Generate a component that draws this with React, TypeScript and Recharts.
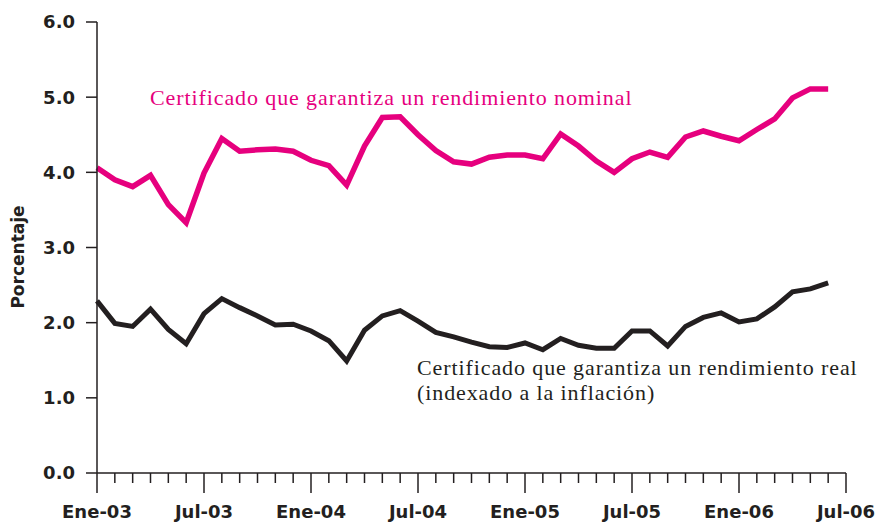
import { LineChart, Line, XAxis, YAxis } from 'recharts'

const MESES = ['Ene', 'Feb', 'Mar', 'Abr', 'May', 'Jun', 'Jul', 'Ago', 'Sep', 'Oct', 'Nov', 'Dic']
const ANIOS = ['03', '04', '05', '06']

// Ene-03 ... Jul-06 (43 months on the axis)
const categories = ANIOS.flatMap(a => MESES.map(m => `${m}-${a}`)).slice(0, 43)

const nominal = [
  4.06, 3.9, 3.81, 3.96, 3.57, 3.33, 3.99, 4.45, 4.28, 4.3, 4.31, 4.28,
  4.16, 4.09, 3.83, 4.35, 4.73, 4.74, 4.5, 4.29, 4.14, 4.11, 4.2, 4.23,
  4.23, 4.18, 4.51, 4.35, 4.15, 4.0, 4.18, 4.27, 4.2, 4.47, 4.55, 4.48,
  4.42, 4.57, 4.71, 4.99, 5.11, 5.11,
]

const real = [
  2.29, 1.99, 1.95, 2.18, 1.91, 1.72, 2.12, 2.32, 2.2, 2.09, 1.97, 1.98,
  1.89, 1.76, 1.49, 1.9, 2.09, 2.16, 2.02, 1.87, 1.81, 1.74, 1.68, 1.67,
  1.73, 1.64, 1.79, 1.7, 1.66, 1.66, 1.89, 1.89, 1.69, 1.95, 2.07, 2.13,
  2.01, 2.05, 2.21, 2.41, 2.45, 2.53,
]

const yTicks = [0, 1, 2, 3, 4, 5, 6]

const data = categories.map((month, i) => ({
  month,
  nominal: nominal[i] ?? null,
  real: real[i] ?? null,
}))

const INK = '#231f20'
const PINK = '#e6007e'
const AXIS_FONT = '"DejaVu Sans", sans-serif'
const SERIF = '"Liberation Serif", serif'

function XTick(props: any) {
  const { x, y, payload, index } = props
  const major = index % 6 === 0
  return (
    <g>
      <line x1={x} x2={x} y1={y} y2={y + (major ? 20 : 10)} stroke={INK} strokeWidth={1.5} />
      {major && (
        <text x={x} y={y + 45} textAnchor="middle" fill={INK} fontSize={18} fontWeight="bold" fontFamily={AXIS_FONT}>
          {payload.value}
        </text>
      )}
    </g>
  )
}

export default function App() {
  return (
    <div style={{ position: 'absolute', left: 0, top: 0, width: 882, height: 522, background: '#fff' }}>
      <LineChart width={882} height={522} data={data} margin={{ top: 22, right: 36, bottom: 0, left: 0 }}>
        <XAxis
          dataKey="month"
          height={49}
          interval={0}
          tickLine={false}
          tickSize={0}
          tickMargin={0}
          tick={<XTick />}
          axisLine={{ stroke: INK, strokeWidth: 1.5 }}
        />
        <YAxis
          width={97}
          domain={[0, 6]}
          ticks={yTicks}
          tickFormatter={(v: number) => v.toFixed(1)}
          tickSize={11}
          tickMargin={11}
          tickLine={{ stroke: INK, strokeWidth: 1.5 }}
          axisLine={{ stroke: INK, strokeWidth: 1.5 }}
          tick={{ fill: INK, fontSize: 18, fontWeight: 'bold', fontFamily: AXIS_FONT }}
        />
        <Line
          type="linear"
          dataKey="nominal"
          stroke={PINK}
          strokeWidth={5.5}
          dot={false}
          isAnimationActive={false}
        />
        <Line
          type="linear"
          dataKey="real"
          stroke={INK}
          strokeWidth={5}
          dot={false}
          isAnimationActive={false}
        />
        <text x={18} y={257} transform="rotate(-90 18 257)" textAnchor="middle" dominantBaseline="central" fill={INK} fontSize={17} fontWeight="bold" fontFamily={AXIS_FONT}>
          Porcentaje
        </text>
        <text x={150} y={105} fill={PINK} fontSize={22} letterSpacing={0.9} fontFamily={SERIF}>
          Certificado que garantiza un rendimiento nominal
        </text>
        <text x={417} y={375} fill={INK} fontSize={22} letterSpacing={0.9} fontFamily={SERIF}>
          Certificado que garantiza un rendimiento real
        </text>
        <text x={417} y={400} fill={INK} fontSize={22} letterSpacing={0.9} fontFamily={SERIF}>
          (indexado a la inflación)
        </text>
      </LineChart>
    </div>
  )
}
